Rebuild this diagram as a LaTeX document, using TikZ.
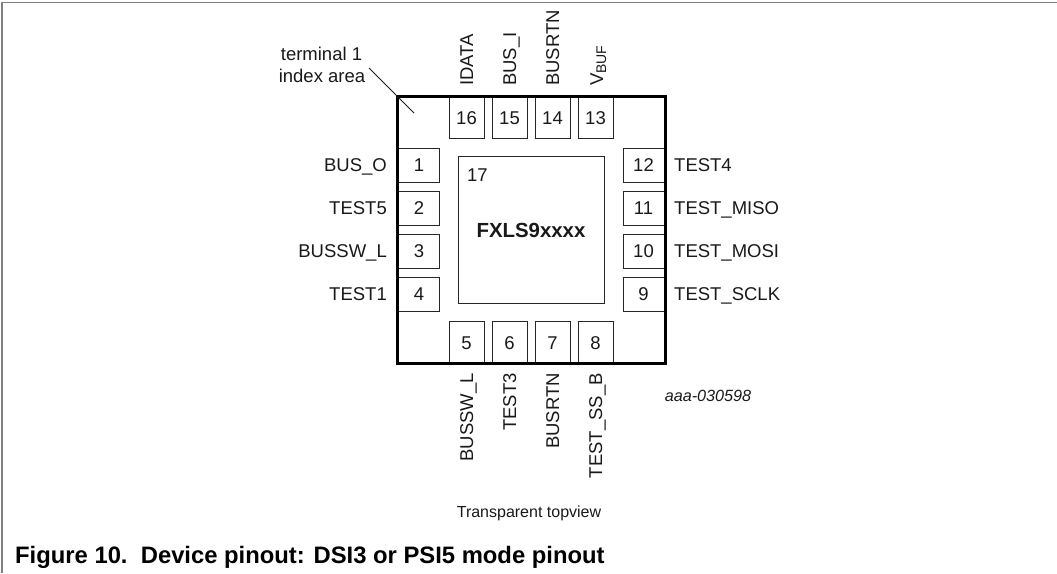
\documentclass[tikz,border=0pt]{standalone}
\usepackage{fontspec}
\setmainfont{Liberation Sans}
\tikzset{
  padbox/.style={draw=black!85,line width=0.9pt,inner sep=0pt,outer sep=0pt,anchor=north west},
  hpad/.style={padbox,minimum width=35pt,minimum height=42pt},
  vpad/.style={padbox,minimum width=42pt,minimum height=34pt},
  lab/.style={font=\fontsize{18.5}{20}\selectfont,text=black!90,inner sep=0pt},
  num/.style={lab,anchor=base},
}
\begin{document}
\begin{tikzpicture}[x=1pt,y=1pt]
\useasboundingbox (0,0) rectangle (1057,-573);
\draw[black!50,line width=1.3pt] (2,-573) -- (2,-2.5) -- (1057,-2.5);
% pads
\foreach \n/\x in {16/449.5,15/492.5,14/535.5,13/578.5}{
  \node[hpad] (p\n) at (\x,-96.5) {};
  \node[num] (t\n) at (\x+17,-124) {\n};
}
\foreach \n/\x in {5/449.5,6/492.5,7/535.5,8/578.5}{
  \node[hpad] (p\n) at (\x,-321.5) {};
  \node[num] (t\n) at (\x+17,-349) {\n};
}
\foreach \n/\y in {1/148.5,2/191.5,3/234.5,4/277.5}{
  \node[vpad] (p\n) at (397.5,-\y) {};
  \node[num] (t\n) at (419,-\y-23) {\n};
}
\foreach \n/\y in {12/148.5,11/191.5,10/234.5,9/277.5}{
  \node[vpad] (p\n) at (623.5,-\y) {};
  \node[num] (t\n) at (643.5,-\y-23) {\n};
}
% package and centre pad
\node[draw=black,line width=3pt,inner sep=0pt,outer sep=0pt,minimum width=268pt,minimum height=267pt,anchor=north west] (pkg) at (397.5,-96.5) {};
\node[padbox,minimum width=146pt,minimum height=147pt] (ctr) at (458.5,-156.5) {};
\node[lab,anchor=base west] (n17) at (467,-181) {17};
\node[font=\fontsize{20.4}{22}\selectfont\bfseries,text=black!90,inner sep=0pt,anchor=base] (dev) at (531,-237) {FXLS9xxxx};
% left labels
\foreach \n/\y/\s in {1/171.5/BUS\_O,2/214.5/TEST5,3/257.5/BUSSW\_L,4/300.5/TEST1}{
  \node[lab,anchor=base east] (l\n) at (387,-\y) {\s};
}
\foreach \n/\y/\s in {12/171.5/TEST4,11/214.5/TEST\_MISO,10/257.5/TEST\_MOSI,9/300.5/TEST\_SCLK}{
  \node[lab,anchor=base west] (l\n) at (674,-\y) {\s};
}
% top labels
\foreach \n/\x/\s in {16/473/IDATA,15/516/BUS\_I,14/559/BUSRTN}{
  \node[lab,rotate=90,anchor=base west] (l\n) at (\x,-86) {\s};
}
\node[lab,rotate=90,anchor=base west] (l13) at (603,-86) {V\raisebox{-3pt}{\fontsize{14}{16}\selectfont BUF}};
% bottom labels
\foreach \n/\x/\s in {5/473/BUSSW\_L,6/516/TEST3,7/559/BUSRTN,8/602/TEST\_SS\_B}{
  \node[lab,rotate=90,anchor=base east] (l\n) at (\x,-373) {\s};
}
% terminal label and leader
\node[lab,anchor=base] (term1) at (321.5,-60) {terminal 1};
\node[lab,anchor=base] (term2) at (322,-82) {index area};
\coordinate (lead0) at (369,-68);
\coordinate (lead1) at (414,-113);
\draw[black!90,line width=0.8pt] (lead0) -- (lead1);
\node[font=\fontsize{16.2}{18}\selectfont\itshape,text=black!90,inner sep=0pt] (code) at (708,-396) {aaa-030598};
\node[font=\fontsize{16}{18}\selectfont,text=black!90,inner sep=0pt] (view) at (529,-513) {Transparent topview};
\node[font=\fontsize{23.8}{26}\selectfont\bfseries,text=black,inner sep=0pt,anchor=base west] (cap) at (15,-563) {Figure 10.\ \ Device pinout: DSI3 or PSI5 mode pinout};
\end{tikzpicture}
\end{document}
